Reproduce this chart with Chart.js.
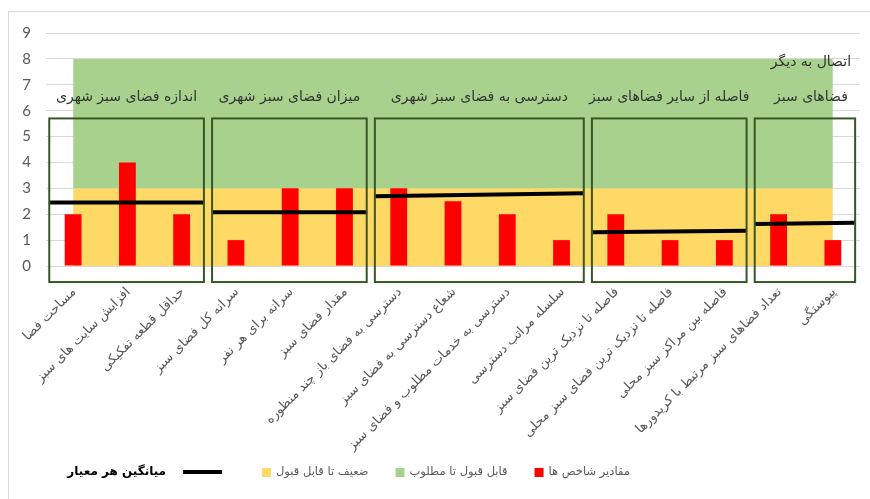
<!DOCTYPE html>
<html>
<head>
<meta charset="utf-8">
<script src="https://cdn.jsdelivr.net/npm/chart.js@4.4.0/dist/chart.umd.min.js"></script>
<style>
  html, body { margin: 0; padding: 0; background: #fff; }
  #wrap { width: 870px; height: 499px; position: relative; }
</style>
</head>
<body>
<div id="wrap"><canvas id="chart"></canvas></div>
<script>
// Chart data
var labels = [
    "مساحت فضا",
    "افزایش سایت های سبز",
    "حداقل قطعه تفکیکی",
    "سرانه کل فضای سبز",
    "سرانه برای هر نفر",
    "مقدار فضای سبز",
    "دسترسی به فضای باز چند منظوره",
    "شعاع دسترسی به فضای سبز",
    "دسترسی به خدمات مطلوب و فضای سبز",
    "سلسله مراتب دسترسی",
    "فاصله تا نزدیک ترین فضای سبز",
    "فاصله تا نزدیک ترین فضای سبز محلی",
    "فاصله بین مراکز سبز محلی",
    "تعداد فضاهای سبز مرتبط با کریدورها",
    "پیوستگی"
];
var values = [2, 4, 2, 1, 3, 3, 3, 2.5, 2, 1, 2, 1, 1, 2, 1];
var weakTop = [3, 3, 3, 3, 3, 3, 3, 3, 3, 3, 3, 3, 3, 3, 3];
var goodTop = [8, 8, 8, 8, 8, 8, 8, 8, 8, 8, 8, 8, 8, 8, 8];

var groupNames = [
    ["اندازه فضای سبز شهری"],
    ["میزان فضای سبز شهری"],
    ["دسترسی به فضای سبز شهری"],
    ["فاصله از سایر فضاهای سبز"],
    ["اتصال به دیگر", "فضاهای سبز"]
];
var groupFirst = [0, 3, 6, 10, 13];
var groupLast = [2, 5, 9, 12, 14];
var avgStart = [2.45, 2.08, 2.69, 1.30, 1.62];
var avgEnd = [2.45, 2.08, 2.81, 1.36, 1.67];

var yMin = 0, yMax = 9, yStep = 1;

var seriesNames = ["مقادیر شاخص ها", "ضعیف تا قابل قبول", "قابل قبول تا مطلوب", "میانگین هر معیار"];

var RED = "#ff0000", YELLOW = "#ffd966", GREEN = "#a9d18e";
var padL = 0.44, padR = 0.41;
var arabicFont = "'DejaVu Sans', sans-serif";

// datasets
var datasets = [
    {
        type: "bar",
        label: seriesNames[0],
        data: values,
        backgroundColor: RED,
        grouped: false,
        categoryPercentage: 1,
        barPercentage: 0.31,
        order: 2
    },
    {
        type: "line",
        label: seriesNames[1],
        data: weakTop,
        backgroundColor: YELLOW,
        borderWidth: 0,
        pointRadius: 0,
        fill: "origin",
        order: 4
    },
    {
        type: "line",
        label: seriesNames[2],
        data: goodTop,
        backgroundColor: GREEN,
        borderWidth: 0,
        pointRadius: 0,
        fill: "-1",
        order: 3
    }
];
for (var g = 0; g < groupFirst.length; g++) {
    datasets.push({
        type: "line",
        label: seriesNames[3],
        xAxisID: "x2",
        data: [
            {x: groupFirst[g] - padL, y: avgStart[g]},
            {x: groupLast[g] + padR, y: avgEnd[g]}
        ],
        borderColor: "#000",
        borderWidth: 4,
        pointRadius: 0,
        fill: false,
        order: 1
    });
}

// frame, group boxes, titles, category labels, legend
var decor = {
    id: "decor",
    beforeDraw: function (chart) {
        var ctx = chart.ctx;
        ctx.save();
        ctx.strokeStyle = "#d9d9d9";
        ctx.lineWidth = 1;
        ctx.strokeRect(8.5, 11.5, 900, 600);
        ctx.restore();
    },
    afterDatasetsDraw: function (chart) {
        var ctx = chart.ctx;
        var x = chart.scales.x2, y = chart.scales.y;
        ctx.save();
        ctx.strokeStyle = "#385723";
        ctx.lineWidth = 2;
        for (var i = 0; i < groupFirst.length; i++) {
            var l = x.getPixelForValue(groupFirst[i] - padL);
            var r = x.getPixelForValue(groupLast[i] + padR);
            var t = y.getPixelForValue(5.7);
            var b = y.getPixelForValue(-0.62);
            ctx.strokeRect(l, t, r - l, b - t);

            ctx.fillStyle = "#333";
            ctx.font = "14px " + arabicFont;
            ctx.textAlign = "center";
            ctx.textBaseline = "middle";
            var lines = groupNames[i];
            for (var k = 0; k < lines.length; k++) {
                var yy = y.getPixelForValue(6.5 + (lines.length - 1 - k) * 1.35);
                ctx.fillText(lines[k], (l + r) / 2 + (lines.length > 1 ? 6 : 0), yy);
            }
        }
        ctx.restore();
    },
    afterDraw: function (chart) {
        var ctx = chart.ctx;
        var xs = chart.scales.x;
        var base = chart.chartArea.bottom;

        // rotated category labels, right end at the tick
        ctx.save();
        ctx.font = "13px " + arabicFont;
        ctx.fillStyle = "#595959";
        ctx.textAlign = "right";
        ctx.textBaseline = "middle";
        for (var i = 0; i < labels.length; i++) {
            ctx.save();
            ctx.translate(xs.getPixelForValue(i) + 1, base + 24);
            ctx.rotate(-Math.PI / 4);
            ctx.fillText(labels[i], 0, 0);
            ctx.restore();
        }
        ctx.restore();

        // legend
        var ly = 472;
        ctx.save();
        ctx.textBaseline = "middle";
        ctx.font = "bold 12px " + arabicFont;
        ctx.fillStyle = "#000";
        ctx.textAlign = "right";
        ctx.fillText(seriesNames[3], 166, ly);
        ctx.fillRect(183, ly - 2, 39, 4);
        var items = [[seriesNames[1], YELLOW], [seriesNames[2], GREEN], [seriesNames[0], RED]];
        var px = 262;
        ctx.font = "11.5px " + arabicFont;
        ctx.textAlign = "left";
        for (var j = 0; j < items.length; j++) {
            ctx.fillStyle = items[j][1];
            ctx.fillRect(px, ly - 4, 9, 9);
            ctx.fillStyle = "#595959";
            ctx.fillText(items[j][0], px + 14, ly);
            px += 14 + ctx.measureText(items[j][0]).width + 27;
        }
        ctx.restore();
    }
};

var ctx = document.getElementById("chart").getContext("2d");
var myChart = new Chart(ctx, {
    data: {
        labels: labels,
        datasets: datasets
    },
    options: {
        responsive: true,
        maintainAspectRatio: false,
        animation: false,
        layout: {
            padding: {top: 33, right: 10, bottom: 0, left: 0}
        },
        plugins: {
            legend: {display: false},
            tooltip: {enabled: false}
        },
        scales: {
            x: {
                type: "category",
                offset: true,
                grid: {display: false},
                border: {display: false},
                ticks: {display: false},
                afterFit: function (scale) { scale.height = 233; }
            },
            x2: {
                type: "linear",
                display: false,
                min: -0.5,
                max: 14.5
            },
            y: {
                min: yMin,
                max: yMax,
                ticks: {
                    stepSize: yStep,
                    padding: 15,
                    color: "#595959",
                    font: {family: "Lato, sans-serif", size: 15}
                },
                grid: {color: "#d9d9d9", drawTicks: false},
                border: {display: false},
                afterFit: function (scale) { scale.width = 46; }
            }
        }
    },
    plugins: [decor]
});
</script>
</body>
</html>
